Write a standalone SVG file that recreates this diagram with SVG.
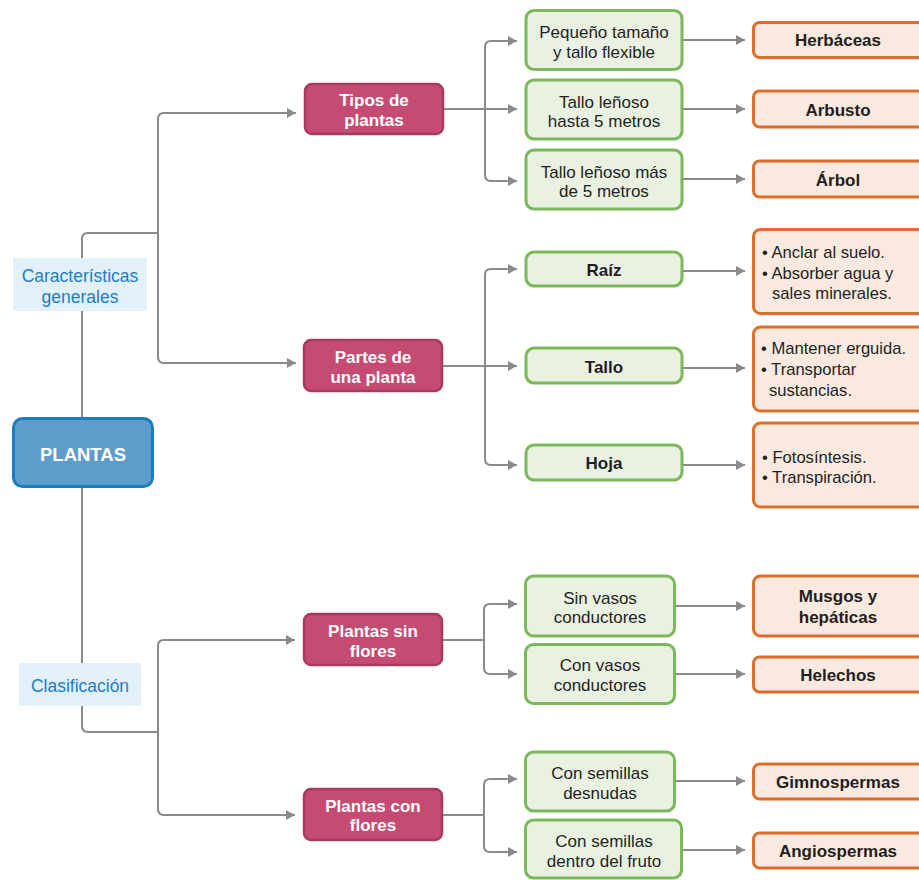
<svg xmlns="http://www.w3.org/2000/svg" width="919" height="880" viewBox="0 0 919 880">
<defs>
<marker id="arr" markerUnits="userSpaceOnUse" markerWidth="10" markerHeight="12" viewBox="0 0 10 12" refX="9" refY="6" orient="auto">
<path d="M0,1 L9,6 L0,11 z" fill="#8A8A8A"/>
</marker>
</defs>
<style>
text{font-family:"Liberation Sans",Arial,sans-serif;text-anchor:middle;fill:#1f1f1f}
.ln{fill:none;stroke:#8A8A8A;stroke-width:2}
.ar{marker-end:url(#arr)}
.root rect{fill:#5E9CCC;stroke:#1B7DC0;stroke-width:3}
.root text{fill:#fff;font-weight:bold;font-size:18.5px}
.lab rect{fill:#E2F0FA}
.lab text{fill:#1D7EC2;font-size:17.5px}
.mag rect{fill:#C64B73;stroke:#A83A62;stroke-width:2.5}
.mag text{fill:#fff;font-weight:bold;font-size:17px}
.grn rect{fill:#E9F2E1;stroke:#7DB75B;stroke-width:3}
.grn text{font-size:17px}
.grn text.b{font-weight:bold}
.org rect{fill:#F9E9DE;stroke:#DC6E2A;stroke-width:3}
.org text{font-weight:bold;font-size:17px}
.org text.l{font-weight:normal;font-size:16.6px;text-anchor:start}
</style>
<g id="connectors">
<path class="ln" d="M82,417 V239 Q82,233 88,233 H158"/>
<path class="ln ar" d="M158,233 V119 Q158,113 164,113 H296"/>
<path class="ln ar" d="M158,233 V357 Q158,363 164,363 H296"/>
<path class="ln" d="M82,488 V726 Q82,732 88,732 H158"/>
<path class="ln ar" d="M158,732 V646 Q158,640 164,640 H295"/>
<path class="ln ar" d="M158,732 V809 Q158,815 164,815 H295"/>
<path class="ln ar" d="M444,109 H517"/>
<path class="ln ar" d="M485,109 V47 Q485,41 491,41 H517"/>
<path class="ln ar" d="M485,109 V175 Q485,181 491,181 H517"/>
<path class="ln ar" d="M443,366 H517"/>
<path class="ln ar" d="M485,366 V275 Q485,269 491,269 H517"/>
<path class="ln ar" d="M485,366 V459 Q485,465 491,465 H517"/>
<path class="ln" d="M443,640 H484"/>
<path class="ln ar" d="M484,640 V610 Q484,604 490,604 H517"/>
<path class="ln ar" d="M484,640 V668 Q484,674 490,674 H517"/>
<path class="ln" d="M443,815 H484"/>
<path class="ln ar" d="M484,815 V785 Q484,779 490,779 H517"/>
<path class="ln ar" d="M484,815 V846 Q484,852 490,852 H517"/>
<path class="ln ar" d="M683,40 H745"/>
<path class="ln ar" d="M683,109 H745"/>
<path class="ln ar" d="M683,179 H745"/>
<path class="ln ar" d="M683,271 H745"/>
<path class="ln ar" d="M683,368 H745"/>
<path class="ln ar" d="M683,465 H745"/>
<path class="ln ar" d="M675,606 H745"/>
<path class="ln ar" d="M676,674 H745"/>
<path class="ln ar" d="M676,781 H745"/>
<path class="ln ar" d="M683,850 H745"/>
</g>
<g id="lab-caracteristicas" class="lab"><rect x="13" y="258" width="134" height="53"/><text x="80" y="282">Características</text><text x="80" y="303">generales</text></g>
<g id="lab-clasificacion" class="lab"><rect x="19" y="663" width="122" height="43"/><text x="80" y="692">Clasificación</text></g>
<g id="plantas" class="root"><rect x="13.5" y="418.5" width="139" height="68" rx="9"/><text x="83" y="461">PLANTAS</text></g>
<g id="tipos" class="mag"><rect x="305" y="84" width="138" height="50" rx="7"/><text x="374" y="106">Tipos de</text><text x="374" y="126">plantas</text></g>
<g id="partes" class="mag"><rect x="304" y="340" width="138" height="51" rx="7"/><text x="373" y="363">Partes de</text><text x="373" y="383">una planta</text></g>
<g id="sinflores" class="mag"><rect x="304" y="614" width="138" height="51" rx="7"/><text x="373" y="637">Plantas sin</text><text x="373" y="657">flores</text></g>
<g id="conflores" class="mag"><rect x="304" y="789" width="138" height="51" rx="7"/><text x="373" y="812">Plantas con</text><text x="373" y="831">flores</text></g>
<g id="g-pequeno" class="grn"><rect x="526" y="10.5" width="156" height="59" rx="8"/><text x="604" y="38">Pequeño tamaño</text><text x="604" y="58">y tallo flexible</text></g>
<g id="g-lenoso5" class="grn"><rect x="526" y="80" width="156" height="59" rx="8"/><text x="604" y="108">Tallo leñoso</text><text x="604" y="127">hasta 5 metros</text></g>
<g id="g-lenosomas" class="grn"><rect x="526" y="150" width="156" height="59" rx="8"/><text x="604" y="178">Tallo leñoso más</text><text x="604" y="197">de 5 metros</text></g>
<g id="g-raiz" class="grn"><rect x="526" y="252" width="156" height="34" rx="8"/><text class="b" x="604" y="276">Raíz</text></g>
<g id="g-tallo" class="grn"><rect x="526" y="348" width="156" height="35" rx="8"/><text class="b" x="604" y="373">Tallo</text></g>
<g id="g-hoja" class="grn"><rect x="526" y="445" width="156" height="35" rx="8"/><text class="b" x="604" y="469">Hoja</text></g>
<g id="g-sinvasos" class="grn"><rect x="525.5" y="576" width="149" height="60" rx="8"/><text x="600" y="604">Sin vasos</text><text x="600" y="623">conductores</text></g>
<g id="g-convasos" class="grn"><rect x="525.5" y="644.5" width="149" height="59" rx="8"/><text x="600" y="671">Con vasos</text><text x="600" y="691">conductores</text></g>
<g id="g-desnudas" class="grn"><rect x="525.5" y="752" width="149" height="59" rx="8"/><text x="600" y="779">Con semillas</text><text x="600" y="799">desnudas</text></g>
<g id="g-fruto" class="grn"><rect x="525.5" y="820" width="156" height="58" rx="8"/><text x="604" y="847">Con semillas</text><text x="604" y="867">dentro del fruto</text></g>
<g id="o-herbaceas" class="org"><rect x="753.5" y="22.5" width="180" height="35" rx="6"/><text x="838" y="46">Herbáceas</text></g>
<g id="o-arbusto" class="org"><rect x="753.5" y="91" width="180" height="36" rx="6"/><text x="838" y="116">Arbusto</text></g>
<g id="o-arbol" class="org"><rect x="753.5" y="161" width="180" height="36" rx="6"/><text x="838" y="186">Árbol</text></g>
<g id="o-raiz" class="org"><rect x="753.5" y="229.5" width="180" height="84" rx="7"/><text class="l" x="762" y="258">• Anclar al suelo.</text><text class="l" x="762" y="279">• Absorber agua y</text><text class="l" x="772" y="299">sales minerales.</text></g>
<g id="o-tallo" class="org"><rect x="753.5" y="327" width="180" height="84" rx="7"/><text class="l" x="761" y="354">• Mantener erguida.</text><text class="l" x="761" y="375">• Transportar</text><text class="l" x="769" y="396">sustancias.</text></g>
<g id="o-hoja" class="org"><rect x="753.5" y="423" width="180" height="84" rx="7"/><text class="l" x="762" y="463">• Fotosíntesis.</text><text class="l" x="762" y="483">• Transpiración.</text></g>
<g id="o-musgos" class="org"><rect x="753.5" y="576" width="180" height="60" rx="7"/><text x="838" y="602">Musgos y</text><text x="838" y="623">hepáticas</text></g>
<g id="o-helechos" class="org"><rect x="753.5" y="657" width="180" height="35" rx="6"/><text x="838" y="681">Helechos</text></g>
<g id="o-gimno" class="org"><rect x="753.5" y="764" width="180" height="35" rx="6"/><text x="838" y="788">Gimnospermas</text></g>
<g id="o-angio" class="org"><rect x="753.5" y="833" width="180" height="35" rx="6"/><text x="838" y="857">Angiospermas</text></g>
</svg>
